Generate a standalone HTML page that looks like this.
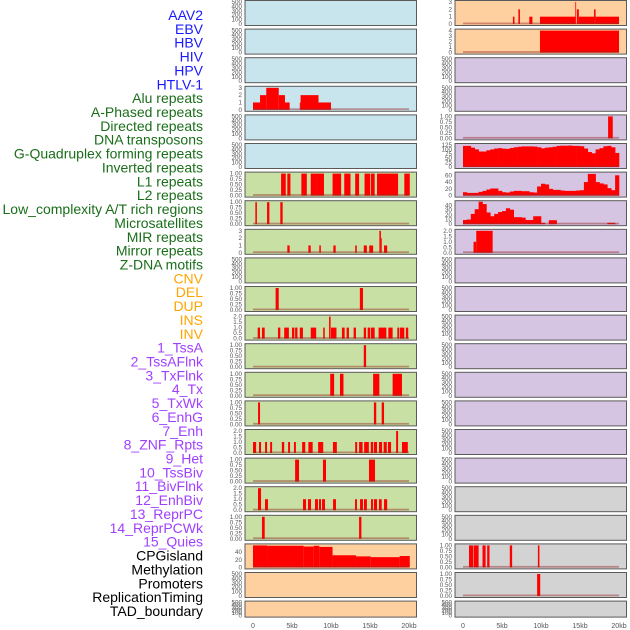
<!DOCTYPE html>
<html><head><meta charset="utf-8"><style>
html,body{margin:0;padding:0;background:#fff;width:630px;height:630px;overflow:hidden}
svg{display:block;font-family:"Liberation Sans",sans-serif}
</style></head><body>
<svg id="chart" width="630" height="630" viewBox="0 0 630 630" xmlns="http://www.w3.org/2000/svg">
<g id="labels"></g>
<g id="panels"></g>
<g id="xaxis"></g>
</svg>
<script>
// ---- track label names ----
const trackLabels = ["AAV2","EBV","HBV","HIV","HPV","HTLV-1","Alu repeats","A-Phased repeats","Directed repeats","DNA transposons","G-Quadruplex forming repeats","Inverted repeats","L1 repeats","L2 repeats","Low_complexity A/T rich regions","Microsatellites","MIR repeats","Mirror repeats","Z-DNA motifs","CNV","DEL","DUP","INS","INV","1_TssA","2_TssAFlnk","3_TxFlnk","4_Tx","5_TxWk","6_EnhG","7_Enh","8_ZNF_Rpts","9_Het","10_TssBiv","11_BivFlnk","12_EnhBiv","13_ReprPC","14_ReprPCWk","15_Quies","CPGisland","Methylation","Promoters","ReplicationTiming","TAD_boundary"];
const labelGroups = [6,13,5,15,5];
const labelColors = ["#1a1aff","#1a6e1a","#ffa500","#a040ff","#000000"];

// ---- x axis ----
const xTickValues = [0,5,10,15,20];
const xTickLabels = ["0","5kb","10kb","15kb","20kb"];

// ---- tick sets ----
const ticksEmpty = [0,100,200,300,400,500];
const ticksBin = [0,0.25,0.5,0.75,1];
const ticksTwo = [0,0.5,1,1.5,2];
const ticksThree = [0,1,2,3];
const ticksFour = [0,1,2,3,4];
const ticksCpg = [0,20,40];
const ticksGq = [0,25,50,75,100,125];
const ticksL1r = [0,20,40,60];
const ticksLow = [0,10,20,30,40];

// ---- segment data [startKb, endKb, value] ----
const aluSegs = [[0,0.9,1],[0.9,1.7,2],[1.7,3.3,3],[3.3,4.1,2],[4.1,4.7,1],[6.0,6.1,1],[6.1,8.4,2],[8.4,10.0,1]];
const l6Segs = [[3.6,4.2,1],[4.4,4.8,1],[6.2,6.9,1],[7.4,8.2,1],[8.2,9.1,1],[10.2,11.3,1],[11.7,12.5,1],[13.1,13.6,1],[14.3,15.0,1],[15.1,15.6,1],[15.9,18.6,1],[19.4,20.1,1]];
const l7Segs = [[0.3,0.5,1],[1.8,2.1,1],[3.5,3.8,1]];
const l8Segs = [[4.4,4.7,1],[7.1,7.4,1],[8.5,8.7,1],[10.3,10.6,1],[13.1,13.3,1],[14.2,14.6,1],[14.9,15.4,1],[16.2,16.4,3],[16.4,16.5,2],[16.8,17.2,1]];
const l10Segs = [[2.9,3.3,1],[13.7,14.1,1]];
const l11Segs = [[0.6,0.9,1],[1.15,1.5,1],[3.2,3.5,1],[4.0,4.6,1],[5.0,5.3,1],[5.4,5.7,1],[6.0,6.4,1],[7.4,8.1,1],[9.0,9.2,1],[9.75,9.95,2],[10.0,10.7,1],[11.4,11.75,1],[12.0,12.3,1],[12.9,13.2,1],[14.2,14.5,1],[14.7,15.0,1],[15.1,15.6,1],[16.1,17.1,1],[17.35,17.9,1],[18.5,18.75,1],[18.85,19.4,1],[19.6,19.9,1]];
const l12Segs = [[14.2,14.5,1]];
const l13Segs = [[9.9,10.4,1],[11.15,11.6,1],[15.4,16.2,1],[17.9,19.1,1]];
const l14Segs = [[0.65,0.9,1],[15.5,15.8,1],[16.5,16.8,1]];
const l15Segs = [[0.0,0.4,1],[0.77,1.03,1],[1.55,1.8,1],[2.2,2.45,1],[3.7,4.0,1],[4.5,4.75,1],[5.25,5.5,1],[6.3,6.7,1],[7.1,7.65,1],[8.35,9.0,1],[10.25,10.75,1],[13.1,13.35,1],[13.6,14.05,1],[14.25,14.85,1],[15.1,15.4,1],[15.5,15.9,1],[16.15,16.55,1],[16.75,17.15,1],[17.3,17.7,1],[18.35,18.6,2],[19.1,19.85,1]];
const l16Segs = [[5.4,5.9,1],[8.97,9.36,1],[14.87,15.64,1]];
const l17Segs = [[0.64,1.03,2],[1.54,1.92,1],[6.41,6.8,1],[7.05,7.44,1],[7.95,8.33,1],[8.46,8.72,1],[8.85,9.23,1],[10.26,10.64,1],[13.08,13.33,1],[13.72,14.1,1],[14.23,14.6,1],[15.13,15.38,1],[15.5,15.9,1],[16.15,16.5,1],[16.8,17.2,1]];
const l18Segs = [[1.15,1.5,1],[13.6,13.9,1]];
const cpgSegs = [[0,1.8,58],[1.8,6.5,57],[6.5,7.8,55],[7.8,8.5,57],[8.5,10.2,54],[10.2,13.2,32],[13.2,15.1,29],[15.1,18.8,27],[18.8,20.1,30]];
const r0Segs = [[6.4,6.6,1],[7.1,7.3,2],[8.5,8.9,1],[9.87,14.4,1],[14.4,14.5,3],[14.6,14.85,2],[14.85,16.8,1],[16.8,17.0,2],[17.0,20.0,1]];
const r1Segs = [[9.87,20.0,4]];
const r4Segs = [[18.6,19.2,1]];
const r8Segs = [[1.35,1.7,1],[1.7,3.8,2]];
const r19Segs = [[0.77,1.33,1],[1.4,2.0,1],[2.5,2.9,1],[3.1,3.4,1],[6.0,6.3,1],[9.6,9.8,1]];
const r20Segs = [[9.5,9.9,1]];

// ---- binned profiles (0.5kb bins, 0..20kb) ----
const gqBins = [120,120,110,100,88,88,95,100,105,107,104,103,108,112,115,117,117,117,116,112,106,110,112,115,120,121,121,122,120,120,118,105,85,78,100,107,118,120,112,80];
const l1rBins = [10,8,8,8,11,14,18,21,21,14,10,9,12,14,14,13,13,10,9,27,35,33,20,17,17,15,14,14,14,15,16,40,64,64,40,36,33,22,16,60];
const lowBins = [9,10,22,32,48,43,25,17,22,26,28,34,31,15,15,14,9,9,17,17,3,0,8.5,8.5,0,0,0,0,0,0,0,0,0,0,0,0,0,3,3,0];

const BLUE="#c8e4ec", GREEN="#c8e0a4", PEACH="#ffd09f", PURPLE="#d6c5e2", GRAY="#d3d3d3";
// panel configs: [bg, ticks, ymax, tickFmt, segs, bins]
const leftPanels = [
 [BLUE,ticksEmpty,500,0,null,null],[BLUE,ticksEmpty,500,0,null,null],[BLUE,ticksEmpty,500,0,null,null],
 [BLUE,ticksThree,3,0,aluSegs,null],[BLUE,ticksEmpty,500,0,null,null],[BLUE,ticksEmpty,500,0,null,null],
 [GREEN,ticksBin,1,2,l6Segs,null],[GREEN,ticksBin,1,2,l7Segs,null],[GREEN,ticksThree,3,0,l8Segs,null],
 [GREEN,ticksEmpty,500,0,null,null],[GREEN,ticksBin,1,2,l10Segs,null],[GREEN,ticksTwo,2,1,l11Segs,null],
 [GREEN,ticksBin,1,2,l12Segs,null],[GREEN,ticksBin,1,2,l13Segs,null],[GREEN,ticksBin,1,2,l14Segs,null],
 [GREEN,ticksTwo,2,1,l15Segs,null],[GREEN,ticksBin,1,2,l16Segs,null],[GREEN,ticksTwo,2,1,l17Segs,null],
 [GREEN,ticksBin,1,2,l18Segs,null],[PEACH,ticksCpg,58,0,cpgSegs,null],[PEACH,ticksEmpty,500,0,null,null],[PEACH,ticksEmpty,500,0,null,null]
];
const rightPanels = [
 [PEACH,ticksThree,3,0,r0Segs,null],[PEACH,ticksFour,4,0,r1Segs,null],
 [PURPLE,ticksEmpty,500,0,null,null],[PURPLE,ticksEmpty,500,0,null,null],
 [PURPLE,ticksBin,1,2,r4Segs,null],[PURPLE,ticksGq,125,0,null,gqBins],[PURPLE,ticksL1r,65,0,null,l1rBins],
 [PURPLE,ticksLow,47,0,null,lowBins],[PURPLE,ticksTwo,2,1,r8Segs,null],
 [PURPLE,ticksEmpty,500,0,null,null],[PURPLE,ticksEmpty,500,0,null,null],[PURPLE,ticksEmpty,500,0,null,null],
 [PURPLE,ticksEmpty,500,0,null,null],[PURPLE,ticksEmpty,500,0,null,null],[PURPLE,ticksEmpty,500,0,null,null],
 [PURPLE,ticksEmpty,500,0,null,null],[PURPLE,ticksEmpty,500,0,null,null],
 [GRAY,ticksEmpty,500,0,null,null],[GRAY,ticksEmpty,500,0,null,null],
 [GRAY,ticksBin,1,2,r19Segs,null],[GRAY,ticksBin,1,2,r20Segs,null],[GRAY,ticksEmpty,500,0,null,null]
];

const NS="http://www.w3.org/2000/svg";
function mk(tag, attrs, parent){const e=document.createElementNS(NS,tag);for(const k in attrs)e.setAttribute(k,attrs[k]);parent.appendChild(e);return e;}

// labels
const lg=document.getElementById('labels');
let gi=0, cnt=0;
trackLabels.forEach((t,i)=>{
  if(cnt>=labelGroups[gi]){gi++;cnt=0;}
  cnt++;
  const e=mk('text',{x:203,y:20+i*13.86,'text-anchor':'end','font-size':'14',fill:labelColors[gi]},lg);
  
  
  e.textContent=t;
});

const pg=document.getElementById('panels');
function drawPanel(cfg, idx, px0, colName){
  const [bg,ticks,ymax,fmt,segs,bins]=cfg;
  const top=0.5+28.6*idx;
  const h = idx===21 ? 16 : 25;
  const w=171.5;
  const g=mk('g',{},pg);
  
  
  const r=mk('rect',{x:px0,y:top,width:w,height:h,fill:bg,stroke:'#5a5a5a','stroke-width':1},g);
  
  
  const y0=top+h-1.5, y1=top+1.5;
  const ys=v=>y0-(v/ymax)*(y0-y1);
  const xs=kb=>px0+8+kb*7.8;
  // ticks
  ticks.forEach(v=>{
    const e=mk('text',{x:px0-3,y:ys(v)+2,'text-anchor':'end','font-size':'6.3',fill:'#555'},g);
    
    
    e.textContent = fmt===2? v.toFixed(2) : fmt===1 ? v.toFixed(1) : String(v);
  });
  const hasData = segs||bins;
  if(segs){
    segs.forEach(s=>{
      const b=mk('rect',{x:xs(s[0]),y:ys(s[2]),width:Math.max(0.8,xs(s[1])-xs(s[0])),height:y0-ys(s[2]),fill:'#ff0000'},g);
      
      
    });
  }
  if(bins){
    bins.forEach((v,i)=>{
      if(v<=0)return;
      const b=mk('rect',{x:xs(i*0.5),y:ys(v),width:xs(0.5)-xs(0)+0.3,height:y0-ys(v),fill:'#ff0000'},g);
      
      
    });
  }
  if(hasData){
    const l=mk('rect',{x:xs(0),y:y0-1.5,width:xs(20)-xs(0),height:1.8,fill:'rgba(150,40,40,0.45)'},g);
    
    
  }
}
leftPanels.forEach((c,i)=>drawPanel(c,i,245,'left'));
rightPanels.forEach((c,i)=>drawPanel(c,i,455,'right'));

// x axis
const xg=document.getElementById('xaxis');
[245,455].forEach(px0=>{
  xTickValues.forEach((v,i)=>{
    const e=mk('text',{x:px0+8+v*7.8,y:628,'text-anchor':'middle','font-size':'7',fill:'#555'},xg);
    
    
    e.textContent=xTickLabels[i];
  });
});
</script>
</body></html>
